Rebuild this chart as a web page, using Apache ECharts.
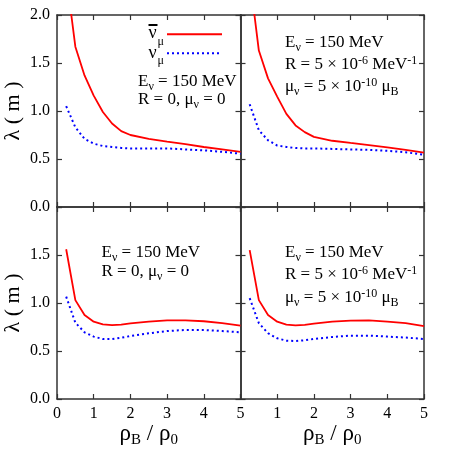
<!DOCTYPE html>
<html>
<head>
<meta charset="utf-8">
<script src="https://cdn.jsdelivr.net/npm/echarts@6/dist/echarts.min.js"></script>
<style>
html, body { margin: 0; padding: 0; background: #fff; }
#myChart { width: 460px; height: 460px; }
</style>
</head>
<body>
<div id="myChart"></div>
<script>
// rho_B / rho_0
var rho = [0.25, 0.5, 0.75, 1, 1.25, 1.5, 1.75, 2, 2.5, 3, 3.5, 4, 4.5, 5];

// top left: R = 0, mu = 0
var nubarTL = [2.42, 1.67, 1.37, 1.16, 0.99, 0.87, 0.79, 0.75, 0.71, 0.68, 0.655, 0.625, 0.60, 0.575];
var nuTL = [1.05, 0.83, 0.71, 0.66, 0.635, 0.625, 0.615, 0.61, 0.61, 0.61, 0.60, 0.59, 0.575, 0.555];
// top right: R = 5e-6, mu = 5e-10
var nubarTR = [2.40, 1.63, 1.34, 1.15, 0.97, 0.85, 0.78, 0.73, 0.69, 0.667, 0.645, 0.62, 0.595, 0.567];
var nuTR = [1.07, 0.80, 0.695, 0.64, 0.625, 0.615, 0.61, 0.61, 0.605, 0.60, 0.595, 0.585, 0.57, 0.545];
// bottom left
var nubarBL = [1.56, 1.03, 0.875, 0.805, 0.778, 0.77, 0.775, 0.788, 0.805, 0.82, 0.82, 0.81, 0.79, 0.765];
var nuBL = [1.066, 0.795, 0.695, 0.65, 0.625, 0.625, 0.638, 0.656, 0.684, 0.708, 0.719, 0.719, 0.708, 0.695];
// bottom right
var nubarBR = [1.55, 1.03, 0.875, 0.805, 0.774, 0.767, 0.773, 0.785, 0.805, 0.816, 0.82, 0.805, 0.79, 0.76];
var nuBR = [1.05, 0.79, 0.685, 0.632, 0.608, 0.604, 0.612, 0.625, 0.646, 0.66, 0.66, 0.65, 0.64, 0.625];

var FONT = 'Liberation Serif';
var AXIS = '#333';
var RED = '#ff0000', BLUE = '#0000ff';

var rich = {
  g: { fontFamily: FONT, fontSize: 17, color: '#000' },
  sub: { fontFamily: FONT, fontSize: 12, color: '#000', padding: [9, 0, 0, 0] },
  sup: { fontFamily: FONT, fontSize: 12, color: '#000', padding: [0, 0, 9, 0] }
};

function pair(ys) {
  return rho.map(function (x, i) { return [x, ys[i]]; });
}

var panels = [
  { left: 57, top: 15, nubar: nubarTL, nu: nuTL, xLab: false, yLab: true, hideX0: false, hideY2: false },
  { left: 240.5, top: 15, nubar: nubarTR, nu: nuTR, xLab: false, yLab: false },
  { left: 57, top: 207, nubar: nubarBL, nu: nuBL, xLab: true, yLab: true, hideX0: false, hideY2: true },
  { left: 240.5, top: 207, nubar: nubarBR, nu: nuBR, xLab: true, yLab: false, hideX0: true }
];

var grid = [], xAxis = [], yAxis = [], series = [];

panels.forEach(function (p, k) {
  grid.push({ left: p.left, top: p.top, width: 183.5, height: 192 });
  var tick = { show: true, inside: true, length: 5, lineStyle: { color: AXIS, width: 1.2 } };
  var line = { show: true, onZero: false, lineStyle: { color: AXIS, width: 1.5 } };
  // bottom + top x
  xAxis.push({
    gridIndex: k, type: 'value', min: 0, max: 5, interval: 1, position: 'bottom',
    axisLine: line, axisTick: tick, splitLine: { show: false },
    axisLabel: {
      show: p.xLab, margin: 7, fontFamily: FONT, fontSize: 16, color: '#000',
      formatter: function (v) { return (p.hideX0 && v === 0) ? '' : String(v); }
    },
    name: p.xLab ? '{r|ρ}{s|B}{r| / ρ}{s|0}' : '',
    nameLocation: 'middle', nameGap: 22,
    nameTextStyle: {
      rich: {
        r: { fontFamily: FONT, fontSize: 23, color: '#000' },
        s: { fontFamily: FONT, fontSize: 15, color: '#000', padding: [11, 0, 0, 0] }
      }
    }
  });
  xAxis.push({
    gridIndex: k, type: 'value', min: 0, max: 5, interval: 1, position: 'top',
    axisLine: line, axisTick: tick, splitLine: { show: false }, axisLabel: { show: false }
  });
  yAxis.push({
    gridIndex: k, type: 'value', min: 0, max: 2, interval: 0.5, position: 'left',
    axisLine: line, axisTick: tick, splitLine: { show: false },
    axisLabel: {
      show: p.yLab, margin: 7, fontFamily: FONT, fontSize: 16, color: '#000',
      formatter: function (v) { return (p.hideY2 && v === 2) ? '' : v.toFixed(1); }
    },
    name: p.yLab ? 'λ ( m )' : '',
    nameLocation: 'middle', nameGap: 33,
    nameTextStyle: { fontFamily: FONT, fontSize: 22, color: '#000' }
  });
  yAxis.push({
    gridIndex: k, type: 'value', min: 0, max: 2, interval: 0.5, position: 'right',
    axisLine: line, axisTick: tick, splitLine: { show: false }, axisLabel: { show: false }
  });
  series.push({
    name: 'nubar', type: 'line', xAxisIndex: 2 * k, yAxisIndex: 2 * k,
    data: pair(p.nubar), showSymbol: false, symbol: 'none', clip: true,
    lineStyle: { color: RED, width: 1.8 }, itemStyle: { color: RED }
  });
  series.push({
    name: 'nu', type: 'line', xAxisIndex: 2 * k, yAxisIndex: 2 * k,
    data: pair(p.nu), showSymbol: false, symbol: 'none', clip: true,
    lineStyle: { color: BLUE, width: 2, type: [2, 3] }, itemStyle: { color: BLUE }
  });
});

function note(x, y, text) {
  return {
    type: 'text', x: x, y: y, silent: true,
    style: { text: text, fontFamily: FONT, fontSize: 17, fill: '#000', verticalAlign: 'middle', rich: rich }
  };
}

function plain(x, y, text, size) {
  return {
    type: 'text', x: x, y: y, silent: true,
    style: { text: text, fontFamily: FONT, fontSize: size, fill: '#000', verticalAlign: 'middle' }
  };
}

function seg(x1, x2, y, color, dash) {
  return {
    type: 'line', silent: true,
    shape: { x1: x1, y1: y, x2: x2, y2: y },
    style: { stroke: color, lineWidth: 2, lineDash: dash || null }
  };
}

var graphic = [
  // key, top left panel
  plain(148.5, 33, 'ν', 18),
  seg(148.5, 157.5, 25, '#000'),
  plain(157.5, 42, 'μ', 12),
  seg(167, 222, 34.3, RED),
  plain(148.5, 53, 'ν', 18),
  plain(157.5, 61, 'μ', 12),
  seg(167, 222, 53.3, BLUE, [2, 3]),

  note(138, 82, 'E{sub|ν} = 150 MeV'),
  note(138, 100, 'R = 0, {g|μ}{sub|ν} = 0'),
  note(285, 43, 'E{sub|ν} = 150 MeV'),
  note(285, 65, 'R = 5 × 10{sup|-6} MeV{sup|-1}'),
  note(285, 87, '{g|μ}{sub|ν} = 5 × 10{sup|-10} {g|μ}{sub|B}'),
  note(101.5, 253, 'E{sub|ν} = 150 MeV'),
  note(101.5, 272, 'R = 0, {g|μ}{sub|ν} = 0'),
  note(285, 253, 'E{sub|ν} = 150 MeV'),
  note(285, 275, 'R = 5 × 10{sup|-6} MeV{sup|-1}'),
  note(285, 298, '{g|μ}{sub|ν} = 5 × 10{sup|-10} {g|μ}{sub|B}')
];

var myChart = echarts.init(document.getElementById('myChart'));
myChart.setOption({
  animation: false,
  backgroundColor: '#fff',
  grid: grid,
  xAxis: xAxis,
  yAxis: yAxis,
  series: series,
  graphic: graphic
});
</script>
</body>
</html>
